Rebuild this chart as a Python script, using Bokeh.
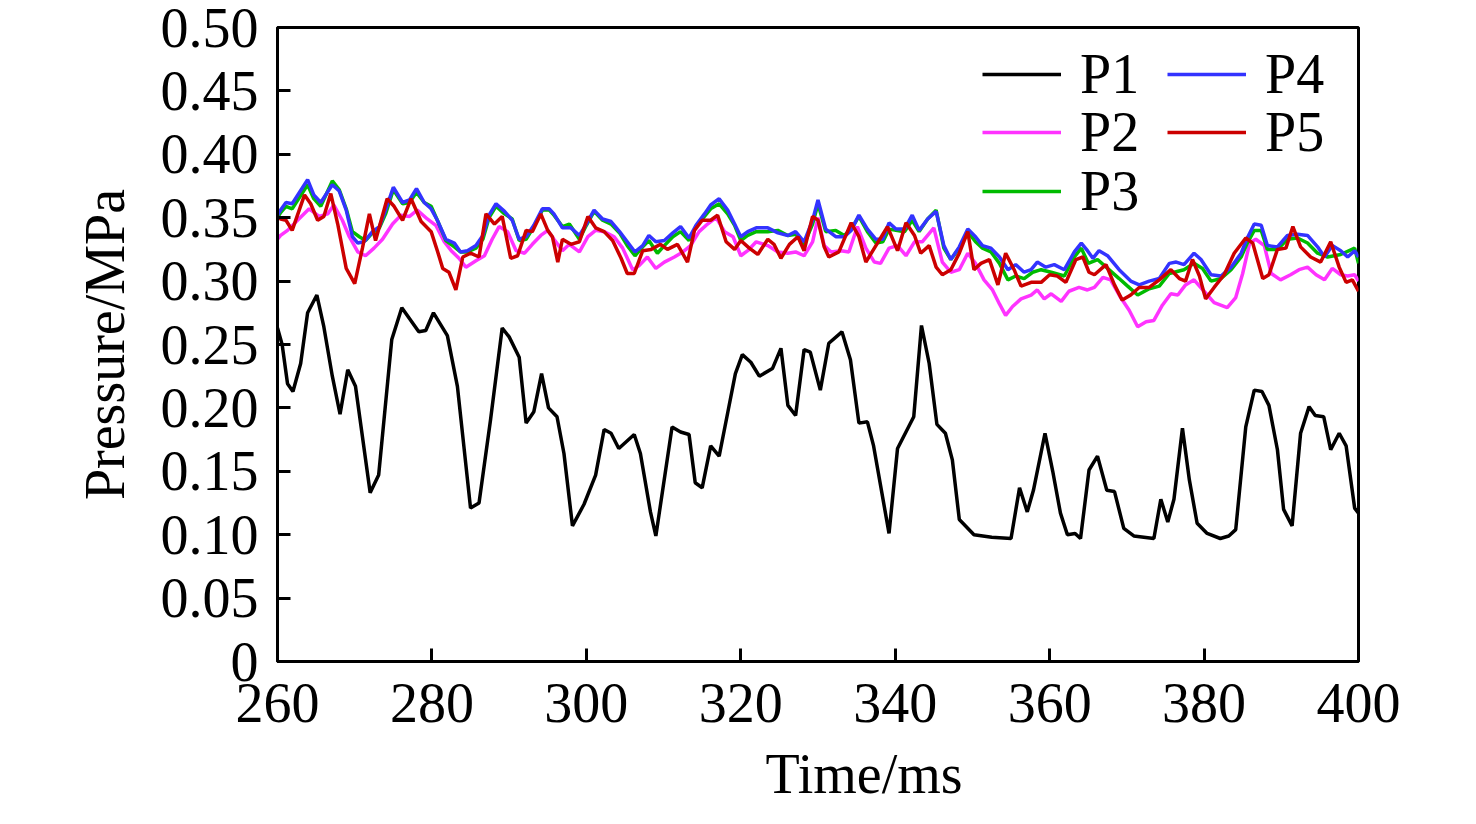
from bokeh.plotting import figure
from bokeh.models import Range1d, FixedTicker, Legend, LegendItem, Title
from bokeh.embed import file_html
from bokeh.resources import INLINE

# ---------------- data ----------------
p1_t = [260.0, 260.6, 261.3, 262.0, 263.0, 263.9, 265.1, 266.0, 267.1, 268.1, 269.1, 270.1, 272.0, 273.1,
        274.8, 276.1, 278.3, 279.2, 280.2, 282.0, 283.3, 285.0, 286.1, 287.6, 289.1, 290.0, 291.3, 292.2,
        293.2, 294.2, 295.1, 296.2, 297.1, 298.2, 299.7, 301.2, 302.3, 303.2, 304.2, 306.2, 307.0, 308.3,
        309.0, 311.1, 312.2, 313.3, 314.1, 315.0, 316.1, 317.2, 318.3, 319.3, 320.2, 321.3, 322.4, 324.1,
        325.2, 326.1, 327.1, 328.2, 329.0, 330.3, 331.4, 333.1, 334.2, 335.3, 336.4, 337.2, 339.2, 340.3,
        342.4, 343.4, 344.4, 345.4, 346.5, 347.4, 348.3, 350.2, 352.5, 355.0, 356.1, 357.1, 357.9, 359.4,
        360.4, 361.4, 362.3, 363.3, 364.0, 365.1, 366.2, 367.4, 368.4, 369.6, 370.9, 373.5, 374.4, 375.3,
        376.1, 377.2, 378.1, 379.1, 380.4, 382.1, 383.2, 384.1, 385.4, 386.5, 387.5, 388.4, 389.5, 390.3,
        391.4, 392.5, 393.6, 394.4, 395.5, 396.4, 397.5, 398.4, 399.5, 400.0]
p1_v = [0.263, 0.250, 0.219, 0.213, 0.235, 0.275, 0.289, 0.264, 0.225, 0.195, 0.230, 0.217, 0.133, 0.147,
        0.254, 0.279, 0.260, 0.261, 0.275, 0.257, 0.217, 0.121, 0.125, 0.191, 0.263, 0.256, 0.240, 0.188,
        0.197, 0.227, 0.200, 0.193, 0.164, 0.107, 0.124, 0.147, 0.183, 0.180, 0.168, 0.179, 0.164, 0.118,
        0.099, 0.185, 0.181, 0.179, 0.141, 0.137, 0.170, 0.162, 0.196, 0.227, 0.242, 0.236, 0.225, 0.231,
        0.247, 0.202, 0.194, 0.246, 0.244, 0.214, 0.251, 0.260, 0.238, 0.188, 0.189, 0.170, 0.101, 0.168,
        0.193, 0.265, 0.235, 0.187, 0.180, 0.159, 0.112, 0.100, 0.098, 0.097, 0.137, 0.118, 0.135, 0.180,
        0.150, 0.117, 0.100, 0.101, 0.097, 0.151, 0.162, 0.135, 0.134, 0.105, 0.099, 0.097, 0.128, 0.110,
        0.128, 0.184, 0.143, 0.109, 0.101, 0.097, 0.099, 0.104, 0.185, 0.214, 0.213, 0.202, 0.167, 0.120,
        0.107, 0.180, 0.201, 0.194, 0.193, 0.167, 0.180, 0.170, 0.121, 0.117]

p2_t = [260.0, 260.4, 261.3, 262.6, 264.1, 265.4, 266.5, 267.3, 268.4, 269.3, 270.4, 271.4, 272.5, 273.6,
        274.9, 276.0, 277.1, 278.1, 279.4, 280.5, 281.6, 282.5, 283.5, 284.4, 285.7, 286.8, 287.8, 288.7,
        289.8, 290.9, 292.0, 293.0, 294.1, 295.0, 295.8, 296.9, 297.8, 299.1, 300.2, 301.2, 302.3, 303.6,
        304.7, 306.0, 306.8, 307.9, 309.0, 310.1, 311.4, 312.5, 313.5, 314.6, 315.7, 316.8, 317.9, 319.0,
        320.0, 320.9, 322.0, 323.5, 324.8, 326.1, 327.1, 328.2, 329.3, 330.0, 330.8, 331.7, 333.0, 334.0,
        335.1, 336.2, 337.3, 338.1, 339.2, 340.3, 341.4, 342.5, 343.5, 345.0, 346.1, 347.2, 348.3, 349.4,
        350.4, 351.5, 352.6, 353.5, 354.3, 355.2, 356.3, 357.6, 358.4, 359.3, 360.2, 361.5, 362.5, 363.8,
        364.9, 365.8, 366.9, 367.9, 369.2, 370.3, 371.4, 372.5, 373.5, 374.6, 375.7, 376.6, 377.6, 378.7,
        380.0, 381.3, 383.0, 384.1, 385.0, 385.9, 386.7, 387.8, 388.7, 389.9, 391.2, 392.3, 393.4, 394.5,
        395.6, 396.6, 397.7, 398.6, 399.5, 400.0]
p2_v = [0.333, 0.336, 0.340, 0.348, 0.357, 0.351, 0.353, 0.360, 0.348, 0.335, 0.323, 0.320, 0.326, 0.333,
        0.345, 0.352, 0.351, 0.356, 0.349, 0.344, 0.331, 0.324, 0.318, 0.311, 0.316, 0.320, 0.333, 0.343,
        0.339, 0.324, 0.322, 0.329, 0.336, 0.340, 0.333, 0.324, 0.329, 0.323, 0.335, 0.340, 0.339, 0.335,
        0.326, 0.309, 0.312, 0.319, 0.310, 0.315, 0.319, 0.323, 0.328, 0.339, 0.345, 0.350, 0.339, 0.335,
        0.320, 0.324, 0.331, 0.328, 0.323, 0.322, 0.323, 0.320, 0.331, 0.350, 0.328, 0.323, 0.324, 0.323,
        0.343, 0.326, 0.315, 0.314, 0.326, 0.328, 0.320, 0.331, 0.331, 0.342, 0.315, 0.307, 0.309, 0.322,
        0.314, 0.301, 0.293, 0.282, 0.273, 0.280, 0.286, 0.289, 0.293, 0.286, 0.290, 0.284, 0.292, 0.295,
        0.293, 0.295, 0.303, 0.301, 0.287, 0.277, 0.264, 0.268, 0.269, 0.281, 0.290, 0.289, 0.297, 0.301,
        0.292, 0.283, 0.279, 0.287, 0.306, 0.330, 0.333, 0.328, 0.306, 0.301, 0.305, 0.309, 0.311, 0.305,
        0.301, 0.310, 0.305, 0.304, 0.305, 0.300]

p3_t = [260.0, 260.4, 261.1, 261.9, 263.9, 264.7, 265.6, 267.1, 268.0, 268.9, 269.7, 270.6, 271.4, 272.3,
        273.2, 274.0, 275.0, 276.2, 277.1, 278.0, 279.0, 279.9, 280.7, 281.8, 282.9, 283.7, 284.6, 285.7,
        286.6, 287.4, 288.3, 289.4, 290.4, 291.3, 292.2, 293.2, 294.3, 295.2, 295.8, 296.9, 297.8, 299.1,
        300.0, 301.0, 302.1, 303.2, 304.3, 305.3, 306.3, 307.3, 308.1, 309.2, 310.1, 311.2, 312.2, 313.3,
        314.2, 315.3, 316.1, 317.2, 318.3, 319.2, 320.0, 320.9, 322.0, 323.5, 324.8, 326.1, 327.1, 328.2,
        329.3, 330.0, 331.0, 332.3, 333.4, 334.3, 335.3, 336.4, 337.5, 338.4, 339.2, 340.1, 341.2, 342.2,
        343.1, 344.2, 345.3, 346.3, 347.2, 348.3, 349.4, 350.4, 351.3, 352.4, 353.5, 354.6, 355.6, 356.7,
        357.8, 358.9, 360.2, 361.9, 363.2, 364.1, 365.0, 366.2, 367.5, 369.0, 370.1, 371.4, 372.9, 374.2,
        375.5, 377.4, 378.7, 379.8, 380.9, 382.2, 383.5, 384.8, 385.6, 386.5, 387.4, 388.2, 389.5, 390.8,
        392.1, 393.4, 394.7, 396.0, 397.7, 399.5, 400.0]
p3_v = [0.350, 0.354, 0.359, 0.357, 0.376, 0.365, 0.359, 0.379, 0.372, 0.357, 0.339, 0.335, 0.332, 0.338,
        0.342, 0.353, 0.372, 0.361, 0.362, 0.370, 0.362, 0.359, 0.348, 0.332, 0.327, 0.323, 0.323, 0.326,
        0.333, 0.350, 0.359, 0.353, 0.349, 0.332, 0.333, 0.343, 0.356, 0.356, 0.352, 0.343, 0.345, 0.333,
        0.344, 0.355, 0.348, 0.345, 0.338, 0.328, 0.320, 0.327, 0.332, 0.322, 0.328, 0.335, 0.339, 0.332,
        0.343, 0.351, 0.357, 0.361, 0.353, 0.344, 0.332, 0.336, 0.339, 0.339, 0.340, 0.336, 0.337, 0.329,
        0.345, 0.361, 0.339, 0.340, 0.336, 0.341, 0.351, 0.339, 0.330, 0.331, 0.341, 0.340, 0.339, 0.348,
        0.339, 0.349, 0.356, 0.326, 0.317, 0.326, 0.339, 0.331, 0.326, 0.323, 0.314, 0.301, 0.304, 0.302,
        0.307, 0.309, 0.307, 0.304, 0.319, 0.326, 0.314, 0.317, 0.310, 0.302, 0.296, 0.289, 0.294, 0.296,
        0.306, 0.309, 0.314, 0.310, 0.300, 0.302, 0.309, 0.319, 0.330, 0.340, 0.340, 0.325, 0.325, 0.333,
        0.334, 0.330, 0.322, 0.319, 0.321, 0.326, 0.314]

p4_t = [260.0, 260.4, 261.1, 261.9, 263.9, 264.7, 265.6, 267.1, 268.0, 268.9, 269.7, 270.4, 271.2, 272.3,
        273.2, 274.0, 275.0, 276.2, 277.1, 278.0, 279.0, 279.9, 280.7, 281.8, 282.9, 283.7, 284.6, 285.7,
        286.6, 287.4, 288.3, 289.4, 290.4, 291.3, 292.2, 293.2, 294.3, 295.2, 295.8, 296.9, 298.0, 299.1,
        300.0, 301.0, 302.1, 303.2, 304.3, 305.3, 306.3, 307.3, 308.1, 309.0, 310.1, 311.2, 312.2, 313.3,
        314.2, 315.3, 316.1, 317.2, 318.3, 319.2, 320.0, 320.9, 322.0, 323.5, 324.8, 326.1, 327.1, 328.2,
        329.3, 330.0, 331.0, 332.3, 333.4, 334.3, 335.3, 336.4, 337.5, 338.4, 339.2, 340.1, 341.2, 342.2,
        343.1, 344.2, 345.3, 346.3, 347.2, 348.3, 349.4, 350.4, 351.3, 352.4, 353.5, 354.6, 355.6, 356.7,
        357.6, 358.4, 359.5, 360.6, 361.9, 363.2, 364.1, 364.9, 365.6, 366.4, 367.5, 369.0, 370.5, 371.6,
        372.9, 374.2, 375.5, 376.4, 377.4, 378.7, 379.6, 380.9, 382.2, 383.5, 384.8, 385.6, 386.5, 387.4,
        388.2, 389.5, 390.8, 392.1, 393.4, 394.7, 395.6, 396.6, 397.7, 398.6, 399.5, 400.0]
p4_v = [0.352, 0.356, 0.362, 0.361, 0.380, 0.368, 0.362, 0.376, 0.371, 0.356, 0.335, 0.330, 0.331, 0.339,
        0.343, 0.356, 0.374, 0.362, 0.364, 0.373, 0.362, 0.357, 0.348, 0.333, 0.330, 0.323, 0.324, 0.328,
        0.336, 0.352, 0.361, 0.355, 0.348, 0.333, 0.335, 0.344, 0.357, 0.357, 0.353, 0.342, 0.342, 0.336,
        0.345, 0.356, 0.349, 0.347, 0.339, 0.331, 0.323, 0.328, 0.336, 0.331, 0.332, 0.338, 0.343, 0.334,
        0.344, 0.353, 0.360, 0.365, 0.356, 0.345, 0.335, 0.339, 0.342, 0.342, 0.338, 0.336, 0.339, 0.331,
        0.348, 0.364, 0.341, 0.335, 0.335, 0.340, 0.352, 0.341, 0.333, 0.333, 0.346, 0.341, 0.341, 0.352,
        0.340, 0.349, 0.355, 0.328, 0.317, 0.327, 0.341, 0.335, 0.328, 0.326, 0.319, 0.309, 0.313, 0.307,
        0.309, 0.315, 0.311, 0.313, 0.309, 0.323, 0.330, 0.324, 0.318, 0.324, 0.320, 0.309, 0.300, 0.297,
        0.300, 0.302, 0.314, 0.315, 0.313, 0.322, 0.317, 0.305, 0.304, 0.311, 0.322, 0.334, 0.345, 0.344,
        0.328, 0.327, 0.336, 0.337, 0.336, 0.327, 0.319, 0.328, 0.324, 0.319, 0.324, 0.319]

p5_t = [260.0, 260.4, 261.1, 261.9, 263.5, 264.3, 265.2, 266.0, 266.9, 267.8, 268.9, 270.0, 271.0, 271.9,
        272.7, 274.2, 275.1, 276.2, 277.3, 278.6, 279.9, 280.7, 281.4, 282.2, 283.1, 284.0, 285.0, 286.1,
        287.0, 288.1, 289.1, 290.2, 291.1, 292.2, 293.0, 294.1, 295.0, 295.6, 296.3, 296.9, 298.0, 299.1,
        300.2, 301.2, 302.3, 303.4, 304.5, 305.3, 306.2, 307.3, 308.4, 309.6, 310.5, 311.8, 313.1, 314.0,
        315.0, 316.1, 317.0, 318.1, 319.2, 320.0, 321.1, 322.2, 323.5, 324.3, 325.2, 326.3, 327.4, 328.2,
        329.3, 330.0, 330.8, 331.4, 332.7, 334.3, 335.3, 336.2, 337.5, 339.0, 340.3, 341.4, 342.5, 343.3,
        344.4, 345.3, 346.1, 347.2, 348.3, 349.4, 350.2, 351.1, 352.2, 353.3, 354.3, 355.4, 356.3, 357.6,
        358.9, 360.0, 361.0, 362.1, 363.4, 364.3, 365.1, 365.8, 367.3, 368.4, 369.4, 370.5, 371.6, 372.9,
        374.2, 375.7, 376.8, 377.6, 378.5, 379.4, 380.2, 381.3, 382.6, 383.9, 385.4, 386.3, 387.6, 388.4,
        389.5, 390.6, 391.5, 392.5, 393.8, 395.1, 396.4, 397.5, 398.4, 399.2, 400.0]
p5_v = [0.350, 0.349, 0.348, 0.340, 0.368, 0.361, 0.348, 0.351, 0.369, 0.345, 0.310, 0.298, 0.326, 0.353,
        0.332, 0.365, 0.359, 0.348, 0.365, 0.347, 0.339, 0.324, 0.310, 0.307, 0.293, 0.319, 0.322, 0.319,
        0.353, 0.345, 0.351, 0.318, 0.320, 0.340, 0.339, 0.353, 0.340, 0.335, 0.315, 0.333, 0.329, 0.331,
        0.351, 0.342, 0.339, 0.332, 0.318, 0.306, 0.306, 0.324, 0.325, 0.329, 0.325, 0.329, 0.315, 0.340,
        0.348, 0.348, 0.352, 0.331, 0.325, 0.332, 0.326, 0.321, 0.333, 0.329, 0.318, 0.329, 0.335, 0.324,
        0.351, 0.348, 0.327, 0.319, 0.323, 0.346, 0.335, 0.315, 0.328, 0.343, 0.324, 0.346, 0.336, 0.322,
        0.328, 0.311, 0.305, 0.309, 0.322, 0.339, 0.309, 0.314, 0.317, 0.297, 0.322, 0.309, 0.296, 0.299,
        0.299, 0.305, 0.304, 0.299, 0.317, 0.319, 0.307, 0.305, 0.313, 0.297, 0.285, 0.289, 0.295, 0.295,
        0.301, 0.309, 0.302, 0.300, 0.317, 0.304, 0.286, 0.295, 0.305, 0.322, 0.334, 0.330, 0.302, 0.305,
        0.325, 0.326, 0.343, 0.327, 0.319, 0.315, 0.331, 0.311, 0.299, 0.301, 0.292]

series_names = ["P1", "P2", "P3", "P4", "P5"]
series_colors = ["#000000", "#ff33ff", "#00bb00", "#3333ff", "#cc0000"]
x_ticks = [260, 280, 300, 320, 340, 360, 380, 400]
y_ticks = [0.0, 0.05, 0.1, 0.15, 0.2, 0.25, 0.3, 0.35, 0.4, 0.45, 0.5]
y_tick_labels = ["0", "0.05", "0.10", "0.15", "0.20", "0.25", "0.30", "0.35", "0.40", "0.45", "0.50"]
x_title = "Time/ms"
y_title = "Pressure/MPa"

FONT = "Liberation Serif"
FS = "56px"

p = figure(width=1460, height=820, output_backend="svg", toolbar_location=None,
           x_range=Range1d(260, 400), y_range=Range1d(0, 0.5),
           min_border_left=277, min_border_right=102, min_border_top=27, min_border_bottom=158)
p.background_fill_color = "white"
p.border_fill_color = "white"
p.outline_line_color = "black"
p.outline_line_width = 3
p.xgrid.visible = False
p.ygrid.visible = False

all_t = [p1_t, p2_t, p3_t, p4_t, p5_t]
all_v = [p1_v, p2_v, p3_v, p4_v, p5_v]
renderers = []
for t, v, c in zip(all_t, all_v, series_colors):
    renderers.append(p.line(t, v, line_color=c, line_width=3.5))

for ax in (p.xaxis[0], p.yaxis[0]):
    ax.axis_line_width = 3
    ax.major_tick_line_width = 3
    ax.major_tick_in = 13
    ax.major_tick_out = 0
    ax.minor_tick_in = 0
    ax.minor_tick_out = 0
    ax.major_label_text_font = FONT
    ax.major_label_text_font_size = FS
    ax.major_label_text_color = "black"
    ax.axis_label_text_font = FONT
    ax.axis_label_text_font_size = FS
    ax.axis_label_text_font_style = "normal"
    ax.axis_label_text_color = "black"

p.xaxis.ticker = FixedTicker(ticks=x_ticks)
p.yaxis.ticker = FixedTicker(ticks=y_ticks)
p.yaxis.major_label_overrides = {k: s for k, s in zip(y_ticks, y_tick_labels)}
p.yaxis.axis_label = y_title
p.xaxis.major_label_standoff = 22
p.yaxis.major_label_standoff = 19
p.yaxis.axis_label_standoff = 22

# x-axis title: in the reference it sits right of the frame centre
p.add_layout(Title(text=x_title, align="left", offset=488, standoff=32,
                   text_font=FONT, text_font_size=FS, text_font_style="normal",
                   text_color="black"), "below")

def make_legend(item, loc):
    return Legend(items=[item], location=loc, orientation="vertical",
                  label_text_font=FONT, label_text_font_size=FS, label_text_color="black",
                  glyph_width=79, glyph_height=50, label_height=50, label_standoff=19,
                  spacing=0, padding=0, margin=0,
                  border_line_alpha=0, background_fill_alpha=0)

# one legend per entry: column 1 holds P1-P3, column 2 holds P4-P5
legend_cols = [0, 0, 0, 1, 1]
legend_rows = [0, 1, 2, 0, 1]
col_x = [705, 890]
row_y = [555, 497, 438]
for i in range(5):
    item = LegendItem(label=series_names[i], renderers=[renderers[i]])
    p.add_layout(make_legend(item, (col_x[legend_cols[i]], row_y[legend_rows[i]])), "center")

open("out.html", "w").write(file_html(p, INLINE))
